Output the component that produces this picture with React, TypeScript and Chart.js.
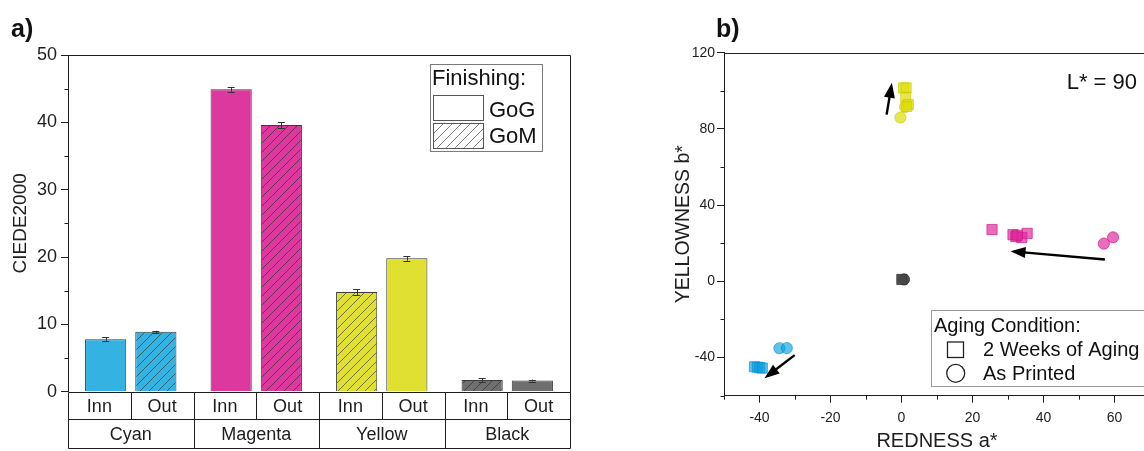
import React, { useEffect, useRef } from "react";
import { Chart, registerables } from "chart.js";

Chart.register(...registerables);

const FONT = "'Liberation Sans', Arial, Helvetica, sans-serif";
const INK = "#1e1e1e";

// ---------- Panel a data ----------
const inkGroups = ["Cyan", "Magenta", "Yellow", "Black"];
const sides = ["Inn", "Out"];
const innValues = [7.8, 44.9, 14.8, 1.75];
const outValues = [8.9, 39.6, 19.8, 1.65];
const innErrors = [0.25, 0.35, 0.45, 0.25];
const outErrors = [0.15, 0.45, 0.35, 0.15];
const innFinish = ["GoG", "GoG", "GoM", "GoM"];
const outFinish = ["GoM", "GoM", "GoG", "GoG"];
const barColors = ["#34b3e3", "#dc389d", "#e0e033", "#6f6f6f"];
const yMinorA = [5, 15, 25, 35, 45];
const finishTitle = "Finishing:";
const finishLabels = ["GoG", "GoM"];
const yTitleA = "CIEDE2000";

// ---------- Panel b data ----------
const yellowAgedX = [0.6, 1.3, 1.2, 1.9, 1.5];
const yellowAgedY = [101.5, 101.5, 96.5, 92.8, 91.8];
const yellowPrintedX = [1.0, -0.3];
const yellowPrintedY = [91.5, 86.0];
const magentaAgedX = [25.5, 31.4, 32.2, 33.9, 35.4, 32.6];
const magentaAgedY = [27.2, 24.5, 23.5, 23.0, 25.2, 24.2];
const magentaPrintedX = [57.0, 59.6];
const magentaPrintedY = [19.8, 23.1];
const cyanAgedX = [-41.4, -40.6, -39.9, -39.2];
const cyanAgedY = [-44.8, -45.0, -45.3, -45.5];
const cyanPrintedX = [-34.4, -32.3];
const cyanPrintedY = [-35.1, -35.0];
const blackAgedX = [0.1];
const blackAgedY = [1.0];
const blackPrintedX = [0.7];
const blackPrintedY = [1.0];

const arrowFromX = [-4.2, 57.3, -30.1];
const arrowFromY = [87.5, 11.5, -38.7];
const arrowToX = [-2.7, 30.7, -38.6];
const arrowToY = [104.2, 15.8, -50.8];

const xTicksB = [-40, -20, 0, 20, 40, 60];
const yTicksB = [-40, 0, 40, 80, 120];
const yMinorB = [-60, -20, 20, 60, 100];
const xMinorB = [-50, -30, -10, 10, 30, 50, 70];
const lightnessNote = "L* = 90";
const agingTitle = "Aging Condition:";
const agingLabels = ["2 Weeks of Aging", "As Printed"];
const xTitleB = "REDNESS a*";
const yTitleB = "YELLOWNESS b*";

const scatterColors = {
  yellow: ["rgba(222,222,10,0.72)", "rgba(200,200,0,0.8)"],
  magenta: ["rgba(222,40,155,0.68)", "rgba(200,20,130,0.8)"],
  cyan: ["rgba(10,160,222,0.65)", "rgba(0,140,205,0.75)"],
  black: ["rgba(70,70,70,0.92)", "rgba(50,50,50,0.95)"],
};

function hatch(color: string): CanvasPattern | string {
  const s = 9;
  const c = document.createElement("canvas");
  c.width = s;
  c.height = s;
  const g = c.getContext("2d");
  if (!g) return color;
  g.fillStyle = color;
  g.fillRect(0, 0, s, s);
  g.strokeStyle = "rgba(40,40,40,0.8)";
  g.lineWidth = 0.75;
  g.beginPath();
  g.moveTo(0, s);
  g.lineTo(s, 0);
  g.moveTo(-1, 1);
  g.lineTo(1, -1);
  g.moveTo(s - 1, s + 1);
  g.lineTo(s + 1, s - 1);
  g.stroke();
  const p = g.createPattern(c, "repeat");
  return p || color;
}

const px = (v: number) => Math.round(v) + 0.5;

const barPlugin = {
  id: "barExtras",
  afterDatasetsDraw(chart: any) {
    const ctx = chart.ctx;
    const y = chart.scales.y;
    const errs = [innErrors, outErrors];
    const vals = [innValues, outValues];
    ctx.save();
    ctx.strokeStyle = "#333";
    ctx.lineWidth = 1;
    for (let d = 0; d < 2; d++) {
      const meta = chart.getDatasetMeta(d);
      meta.data.forEach((el: any, i: number) => {
        const x = el.x;
        const top = y.getPixelForValue(vals[d][i] + errs[d][i]);
        const bot = y.getPixelForValue(vals[d][i] - errs[d][i]);
        ctx.beginPath();
        ctx.moveTo(px(x), top);
        ctx.lineTo(px(x), bot);
        ctx.moveTo(x - 3.5, px(top));
        ctx.lineTo(x + 3.5, px(top));
        ctx.moveTo(x - 3.5, px(bot));
        ctx.lineTo(x + 3.5, px(bot));
        ctx.stroke();
      });
    }
    ctx.restore();
  },
  afterDraw(chart: any) {
    const ctx = chart.ctx;
    const { left, right, top, bottom } = chart.chartArea;
    const xs = chart.scales.x;
    const ys = chart.scales.y;
    ctx.save();
    ctx.strokeStyle = INK;
    ctx.lineWidth = 1;
    ctx.beginPath();
    ctx.moveTo(px(left), px(top));
    ctx.lineTo(px(right), px(top));
    ctx.lineTo(px(right), px(bottom + 56));
    ctx.stroke();
    ctx.beginPath();
    yMinorA.forEach((v) => {
      const yy = px(ys.getPixelForValue(v));
      ctx.moveTo(left - 3.5, yy);
      ctx.lineTo(left, yy);
    });
    ctx.stroke();
    // table
    const gw = (right - left) / inkGroups.length;
    const r1 = bottom + 27.5;
    const r2 = bottom + 56;
    ctx.beginPath();
    [bottom, r1, r2].forEach((yy) => {
      ctx.moveTo(px(left), px(yy));
      ctx.lineTo(px(right), px(yy));
    });
    ctx.moveTo(px(left), px(bottom));
    ctx.lineTo(px(left), px(r2));
    inkGroups.forEach((_, i) => {
      const c = xs.getPixelForValue(i);
      ctx.moveTo(px(c), px(bottom));
      ctx.lineTo(px(c), px(r1));
      if (i > 0) {
        ctx.moveTo(px(c - gw / 2), px(bottom));
        ctx.lineTo(px(c - gw / 2), px(r2));
      }
    });
    ctx.stroke();
    ctx.fillStyle = INK;
    ctx.font = `18px ${FONT}`;
    ctx.textAlign = "center";
    ctx.textBaseline = "alphabetic";
    inkGroups.forEach((g, i) => {
      const c = xs.getPixelForValue(i);
      ctx.fillText(sides[0], c - gw / 4, bottom + 20.5);
      ctx.fillText(sides[1], c + gw / 4, bottom + 20.5);
      ctx.fillText(g, c, bottom + 48.5);
    });
    // legend
    const bx = right - 140;
    const by = top + 9;
    ctx.strokeStyle = "#7a7a7a";
    ctx.strokeRect(px(bx), px(by), 112, 87);
    ctx.font = `22px ${FONT}`;
    ctx.textAlign = "left";
    ctx.fillStyle = "#111";
    ctx.fillText(finishTitle, bx + 2, by + 21);
    const sw = hatch("#ffffff");
    ctx.strokeStyle = "#555";
    for (let k = 0; k < 2; k++) {
      const sy = by + 31 + k * 27.7;
      ctx.fillStyle = k === 0 ? "#ffffff" : (sw as any);
      ctx.fillRect(bx + 3.5, sy, 50, 25);
      ctx.strokeRect(px(bx + 3), px(sy), 50, 25);
      ctx.fillStyle = "#111";
      ctx.fillText(finishLabels[k], bx + 59, by + 53 + k * 26);
    }
    ctx.restore();
  },
};

const scatterPlugin = {
  id: "scatterExtras",
  afterDraw(chart: any) {
    const ctx = chart.ctx;
    const { left, right, top, bottom } = chart.chartArea;
    const xs = chart.scales.x;
    const ys = chart.scales.y;
    ctx.save();
    ctx.strokeStyle = INK;
    ctx.lineWidth = 1;
    ctx.beginPath();
    ctx.moveTo(px(left), px(top));
    ctx.lineTo(px(right), px(top));
    ctx.lineTo(px(right), px(bottom));
    ctx.stroke();
    ctx.beginPath();
    yMinorB.forEach((v) => {
      const yy = px(ys.getPixelForValue(v));
      ctx.moveTo(left - 3.5, yy);
      ctx.lineTo(left, yy);
    });
    xMinorB.forEach((v) => {
      const xx = px(xs.getPixelForValue(v));
      ctx.moveTo(xx, bottom);
      ctx.lineTo(xx, bottom + 4);
    });
    ctx.stroke();
    // arrows
    ctx.fillStyle = "#000";
    ctx.strokeStyle = "#000";
    ctx.lineWidth = 2.4;
    arrowFromX.forEach((_, i) => {
      const x1 = xs.getPixelForValue(arrowFromX[i]);
      const y1 = ys.getPixelForValue(arrowFromY[i]);
      const x2 = xs.getPixelForValue(arrowToX[i]);
      const y2 = ys.getPixelForValue(arrowToY[i]);
      const ang = Math.atan2(y2 - y1, x2 - x1);
      const hl = 15;
      const hw = 5.5;
      const bxp = x2 - hl * Math.cos(ang);
      const byp = y2 - hl * Math.sin(ang);
      ctx.beginPath();
      ctx.moveTo(x1, y1);
      ctx.lineTo(bxp + 2 * Math.cos(ang), byp + 2 * Math.sin(ang));
      ctx.stroke();
      ctx.beginPath();
      ctx.moveTo(x2, y2);
      ctx.lineTo(bxp - hw * Math.sin(ang), byp + hw * Math.cos(ang));
      ctx.lineTo(bxp + hw * Math.sin(ang), byp - hw * Math.cos(ang));
      ctx.closePath();
      ctx.fill();
    });
    ctx.fillStyle = "#111";
    ctx.font = `22px ${FONT}`;
    ctx.textAlign = "right";
    ctx.textBaseline = "alphabetic";
    ctx.fillText(lightnessNote, right - 13, top + 36.5);
    // legend
    const lx = left + 207;
    const ly = 310;
    ctx.lineWidth = 1;
    ctx.strokeStyle = "#9a9a9a";
    ctx.fillStyle = "#ffffff";
    ctx.fillRect(lx, ly, right - 2 - lx, 76);
    ctx.strokeRect(px(lx), px(ly), right - 2 - lx, 76);
    ctx.fillStyle = "#111";
    ctx.font = `20px ${FONT}`;
    ctx.textAlign = "left";
    ctx.fillText(agingTitle, lx + 3, ly + 21.5);
    ctx.fillText(agingLabels[0], lx + 52, ly + 46);
    ctx.fillText(agingLabels[1], lx + 52, ly + 70);
    ctx.strokeStyle = "#222";
    ctx.lineWidth = 1.3;
    ctx.strokeRect(lx + 16.5, ly + 32, 16, 15.5);
    ctx.beginPath();
    ctx.arc(lx + 24.7, ly + 63.3, 9, 0, Math.PI * 2);
    ctx.stroke();
    ctx.restore();
  },
};

const pts = (xs: number[], ys: number[]) => xs.map((x, i) => ({ x, y: ys[i] }));

function scatterSet(xs: number[], ys: number[], col: string[], square: boolean) {
  return {
    data: pts(xs, ys),
    pointStyle: square ? "rect" : "circle",
    pointRadius: square ? 7.2 : 5.6,
    pointBackgroundColor: col[0],
    pointBorderColor: col[1],
    pointBorderWidth: 0.8,
    backgroundColor: col[0],
    borderColor: col[1],
    showLine: false,
  };
}

export default function App() {
  const aRef = useRef<HTMLCanvasElement | null>(null);
  const bRef = useRef<HTMLCanvasElement | null>(null);

  useEffect(() => {
    if (!aRef.current || !bRef.current) return;
    const fill = (fin: string[]) =>
      fin.map((f, i) => (f === "GoM" ? hatch(barColors[i]) : barColors[i]));

    const tickFont = (size: number) => ({ family: FONT, size });

    const chartA = new Chart(aRef.current, {
      type: "bar",
      data: {
        labels: inkGroups,
        datasets: [
          {
            label: sides[0],
            data: innValues,
            backgroundColor: fill(innFinish) as any,
            borderColor: "#3a3a3a",
            borderWidth: 1,
            categoryPercentage: 0.8,
            barPercentage: 0.82,
          },
          {
            label: sides[1],
            data: outValues,
            backgroundColor: fill(outFinish) as any,
            borderColor: "#3a3a3a",
            borderWidth: 1,
            categoryPercentage: 0.8,
            barPercentage: 0.82,
          },
        ],
      },
      options: {
        responsive: false,
        animation: false,
        events: [],
        devicePixelRatio: 1,
        layout: { padding: { left: 0, top: 55, right: 70, bottom: 0 } },
        plugins: { legend: { display: false }, tooltip: { enabled: false } },
        scales: {
          x: {
            type: "category",
            ticks: { display: false },
            grid: { display: false },
            border: { display: false },
            afterFit: (s: any) => {
              s.height = 59.3;
            },
          },
          y: {
            min: 0,
            max: 50,
            ticks: { stepSize: 10, color: INK, font: tickFont(18), padding: 4 },
            grid: { drawOnChartArea: false, tickLength: 7, tickColor: INK, color: INK },
            border: { color: INK, width: 1 },
            title: {
              display: true,
              text: yTitleA,
              color: INK,
              font: { family: FONT, size: 19 },
              padding: { top: 9, bottom: 0 },
            },
            afterFit: (s: any) => {
              s.width = 68;
            },
          },
        },
      } as any,
      plugins: [barPlugin],
    });

    const chartB = new Chart(bRef.current, {
      type: "scatter",
      data: {
        datasets: [
          scatterSet(cyanAgedX, cyanAgedY, scatterColors.cyan, true),
          scatterSet(cyanPrintedX, cyanPrintedY, scatterColors.cyan, false),
          scatterSet(magentaAgedX, magentaAgedY, scatterColors.magenta, true),
          scatterSet(magentaPrintedX, magentaPrintedY, scatterColors.magenta, false),
          scatterSet(yellowAgedX, yellowAgedY, scatterColors.yellow, true),
          scatterSet(yellowPrintedX, yellowPrintedY, scatterColors.yellow, false),
          scatterSet(blackAgedX, blackAgedY, scatterColors.black, true),
          scatterSet(blackPrintedX, blackPrintedY, scatterColors.black, false),
        ] as any,
      },
      options: {
        responsive: false,
        animation: false,
        events: [],
        devicePixelRatio: 1,
        layout: { padding: { left: 0, top: 52.7, right: 10, bottom: 0 } },
        plugins: { legend: { display: false }, tooltip: { enabled: false } },
        scales: {
          x: {
            type: "linear",
            min: -50,
            max: 70,
            afterBuildTicks: (s: any) => {
              s.ticks = xTicksB.map((value) => ({ value }));
            },
            ticks: { color: INK, font: tickFont(14), padding: 7 },
            grid: { drawOnChartArea: false, tickLength: 7, tickColor: INK, color: INK },
            border: { color: INK, width: 1 },
            title: {
              display: true,
              text: xTitleB,
              color: INK,
              font: { family: FONT, size: 20, lineHeight: 1 },
              padding: { top: 0, bottom: 0 },
            },
            afterFit: (s: any) => {
              s.height = 55.3;
            },
          },
          y: {
            type: "linear",
            min: -60,
            max: 120,
            afterBuildTicks: (s: any) => {
              s.ticks = yTicksB.map((value) => ({ value }));
            },
            ticks: { color: INK, font: tickFont(14), padding: 2 },
            grid: { drawOnChartArea: false, tickLength: 7, tickColor: INK, color: INK },
            border: { color: INK, width: 1 },
            title: {
              display: true,
              text: yTitleB,
              color: INK,
              font: { family: FONT, size: 19.5 },
              padding: { top: 12, bottom: 0 },
            },
            afterFit: (s: any) => {
              s.width = 64;
            },
          },
        },
      } as any,
      plugins: [scatterPlugin],
    });

    return () => {
      chartA.destroy();
      chartB.destroy();
    };
  }, []);

  const label: React.CSSProperties = {
    position: "absolute",
    fontFamily: FONT,
    fontWeight: "bold",
    fontSize: 25,
    lineHeight: "25px",
    color: "#111",
  };

  return (
    <div
      style={{
        position: "fixed",
        left: 0,
        top: 0,
        width: 1144,
        height: 451,
        overflow: "hidden",
        background: "#ffffff",
      }}
    >
      <canvas ref={aRef} width={640} height={451} style={{ position: "absolute", left: 0, top: 0 }} />
      <canvas ref={bRef} width={500} height={451} style={{ position: "absolute", left: 660, top: 0 }} />
      <div style={{ ...label, left: 11, top: 16 }}>a)</div>
      <div style={{ ...label, left: 716, top: 16 }}>b)</div>
    </div>
  );
}
